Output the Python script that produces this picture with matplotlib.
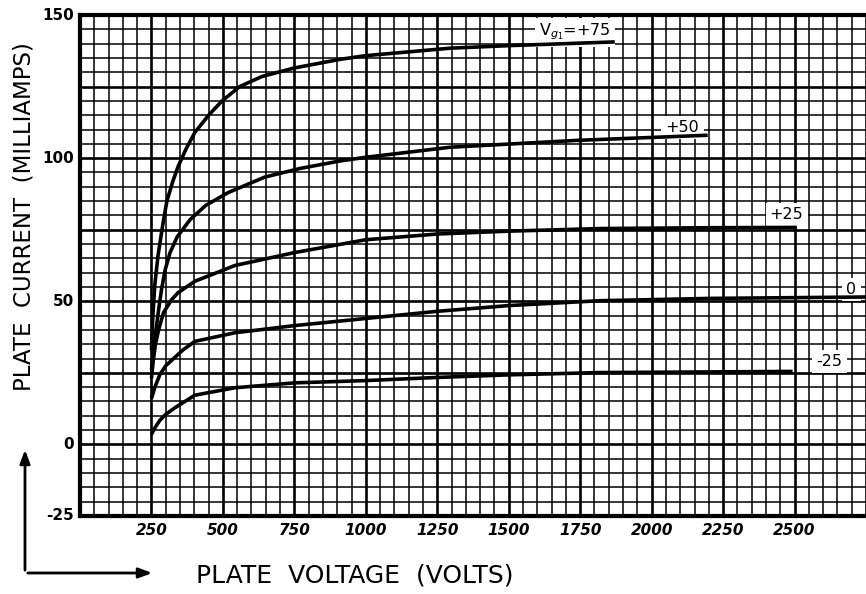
import matplotlib
matplotlib.use("Agg")
import matplotlib.pyplot as plt
from matplotlib.ticker import MultipleLocator
from matplotlib.patches import FancyArrowPatch

# ---- data (plate voltage in volts, plate current in mA) ----
vg_p75_x = [250, 255, 262, 273, 290, 304, 325, 343, 370, 402, 450, 497, 559, 636, 750, 909, 1000, 1294, 1500, 1871]
vg_p75_y = [33, 45, 56, 66, 77, 85, 92, 97, 103, 109, 115, 120, 125, 128.5, 131.5, 134.5, 135.8, 138.4, 139.3, 140.6]

vg_p50_x = [250, 258, 266, 275, 285, 298, 315, 340, 385, 440, 519, 647, 770, 909, 1000, 1294, 1738, 2196]
vg_p50_y = [26, 33, 40, 47, 54, 61, 67, 72.5, 78.5, 83.5, 88, 93.4, 96.4, 99, 100.3, 103.8, 106.2, 108]

vg_p25_x = [250, 256, 264, 275, 292, 320, 343, 402, 542, 750, 1000, 1250, 1500, 1818, 2200, 2507]
vg_p25_y = [23, 29, 35, 40, 46, 50.5, 53, 57, 62.5, 67, 71.5, 73.5, 74.5, 75.4, 75.7, 75.8]

vg_0_x = [250, 262, 280, 300, 322, 360, 402, 542, 750, 1000, 1250, 1500, 1818, 2200, 2750]
vg_0_y = [16, 20, 24.5, 27.5, 29.5, 33, 36, 39, 41.5, 44, 46.5, 48.5, 50.2, 51, 51.5]

vg_m25_x = [250, 262, 280, 300, 332, 402, 542, 750, 1000, 1250, 1500, 1818, 2493]
vg_m25_y = [3.5, 5.8, 8.5, 10.5, 12.8, 17.2, 19.8, 21.5, 22.3, 23.4, 24.3, 25.1, 25.5]

curve_labels = ["V$_{g_1}$=+75", "+50", "+25", "0", "-25"]
label_x = [1731, 2108, 2472, 2699, 2622]
label_y = [144, 110.8, 80.3, 54, 29]

x_ticks = [250, 500, 750, 1000, 1250, 1500, 1750, 2000, 2250, 2500]
y_ticks = [-25, 0, 50, 100, 150]

# ---- figure ----
fig = plt.figure(figsize=(8.66, 5.94), dpi=100)
ax = fig.add_axes([80 / 866, 1 - 516 / 594, 1 - 80 / 866, (516 - 15) / 594])
ax.set_xlim(0, 2750)
ax.set_ylim(-25, 150)

# graph-paper grid
ax.xaxis.set_major_locator(MultipleLocator(250))
ax.xaxis.set_minor_locator(MultipleLocator(50))
ax.yaxis.set_major_locator(MultipleLocator(25))
ax.yaxis.set_minor_locator(MultipleLocator(5))
ax.grid(which="minor", color="black", linewidth=1.1)
ax.grid(which="major", color="black", linewidth=1.9)
ax.tick_params(which="both", length=0, labelbottom=False, labelleft=False)

for v in x_ticks:
    ax.text(v, -27.5, str(v), ha="center", va="top",
            fontsize=11, fontweight="bold", fontstyle="italic", clip_on=False)
for v in y_ticks:
    ax.text(-20, v, str(v), ha="right", va="center", fontsize=11,
            fontweight="bold", clip_on=False)

for s in ["left", "bottom", "top"]:
    ax.spines[s].set_linewidth(3)
ax.spines["right"].set_visible(False)

lw = 2.6
for xs, ys in [(vg_p75_x, vg_p75_y), (vg_p50_x, vg_p50_y), (vg_p25_x, vg_p25_y),
               (vg_0_x, vg_0_y), (vg_m25_x, vg_m25_y)]:
    ax.plot(xs, ys, color="black", lw=lw, zorder=3, solid_capstyle="butt",
            solid_joinstyle="round")

for lab, lx, ly in zip(curve_labels, label_x, label_y):
    ax.text(lx, ly, lab, ha="center", va="center", fontsize=11.5, zorder=2.5,
            bbox=dict(facecolor="white", edgecolor="none", pad=3))

# axis titles
fig.text(355 / 866, 1 - 576 / 594, "PLATE  VOLTAGE  (VOLTS)", ha="center", va="center",
         fontsize=18)
fig.text(24 / 866, 1 - 217 / 594, "PLATE  CURRENT  (MILLIAMPS)", ha="center", va="center",
         rotation=90, fontsize=16.5)

# L-shaped arrows
fig.add_artist(FancyArrowPatch(
    (25 / 866, 1 - 573 / 594), (25 / 866, 1 - 447 / 594), transform=fig.transFigure,
    arrowstyle="-|>,head_length=8,head_width=3", color="black", lw=2))
fig.add_artist(FancyArrowPatch(
    (25 / 866, 1 - 573 / 594), (155 / 866, 1 - 573 / 594), transform=fig.transFigure,
    arrowstyle="-|>,head_length=8,head_width=3", color="black", lw=2))

fig.savefig("out.png", dpi=100, facecolor="white")
